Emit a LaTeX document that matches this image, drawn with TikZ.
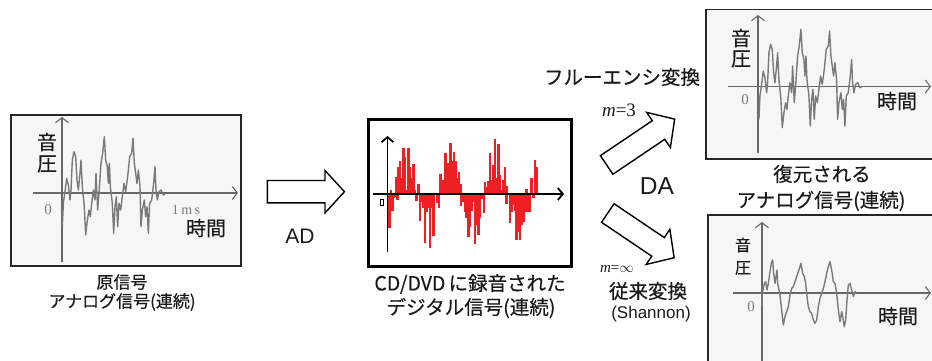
\documentclass[tikz,border=0pt]{standalone}
\usepackage{fontspec}
\setmainfont{Liberation Sans}
\newfontfamily\jp[FakeBold=0.4]{Noto Sans CJK JP}
\newfontfamily\tms{Liberation Serif}
\usetikzlibrary{arrows.meta,shapes.arrows}
\definecolor{txt}{HTML}{1A1A1A}
\definecolor{wavegray}{HTML}{7A7A7A}
\definecolor{boxfill}{HTML}{F6F6F6}
\definecolor{barred}{HTML}{EE2024}
\newcommand\waveApath{%
\draw[wave] (22,320) -- (25,250) -- (30,215) -- (35,175) -- (40,195) -- (45,240) -- (48,210) -- (52,120) -- (57,95) -- (62,110) -- (66,180) -- (70,210) -- (75,160) -- (78,120) -- (82,200) -- (88,260) -- (92,345) -- (97,300) -- (102,270) -- (106,290) -- (110,250) -- (115,210) -- (120,240) -- (123,160) -- (128,270) -- (132,220) -- (138,130) -- (143,100) -- (148,50) -- (152,120) -- (157,140) -- (160,190) -- (163,130) -- (166,200) -- (172,250) -- (176,340) -- (180,260) -- (184,230) -- (188,320) -- (192,250) -- (197,270) -- (202,230) -- (207,190) -- (212,215) -- (218,170) -- (224,110) -- (230,100) -- (234,55) -- (238,130) -- (242,160) -- (246,190) -- (250,150) -- (255,200) -- (258,320) -- (262,270) -- (268,240) -- (272,290) -- (276,260) -- (280,340) -- (284,250) -- (290,240) -- (296,190) -- (300,140) -- (303,210) -- (307,240) -- (312,215) -- (318,210) -- (325,225) -- (330,222);}
\tikzset{
  wave/.style={wavegray, line width=1.4pt, line join=round},
  imgbox/.style={draw=black!85, line width=1.4pt, fill=boxfill},
  gaxis/.style={wavegray!85!black, line width=1.1pt, -{Straight Barb[length=5pt,width=13pt]}},
  baxis/.style={black, line width=1.8pt, -{Straight Barb[length=5pt,width=12pt,line width=1.8pt]}},
  jl/.style={font=\jp\fontsize{19.5pt}{22pt}\selectfont, text=txt, inner sep=0pt},
  jls/.style={font=\jp\fontsize{17pt}{20pt}\selectfont, text=txt, inner sep=0pt},
  axl/.style={font=\jp\fontsize{20pt}{22pt}\selectfont, text=txt, inner sep=0pt},
  axls/.style={font=\jp\fontsize{16pt}{18pt}\selectfont, text=txt, inner sep=0pt},
  zerol/.style={font=\tms\fontsize{15pt}{16pt}\selectfont, text=wavegray, inner sep=0pt},
  lat/.style={font=\fontsize{21pt}{24pt}\selectfont, text=txt, inner sep=0pt},
  blockarr/.style={single arrow, draw=black, line width=1.4pt, fill=white, inner xsep=0pt, inner ysep=10.5pt, single arrow head extend=10pt, single arrow tip angle=95},
  redbar/.style={fill=barred}
}
\begin{document}
\begin{tikzpicture}[x=1pt,y=-1pt]
\useasboundingbox (0,0) rectangle (932,360);
\clip (0,0) rectangle (932,360);
% ---------- left box ----------
\draw[imgbox] (11,115) rectangle (241,266);
\coordinate (lvb) at (62,262); \coordinate (lvt) at (62,117);
\coordinate (lhl) at (33,193); \coordinate (lhr) at (238,193);
\draw[gaxis] (lvb) -- (lvt);
\draw[gaxis] (lhl) -- (lhr);
\begin{scope}[shift={(55,120)}, scale=1/3]
\waveApath
\end{scope}
\node[axl] (lyin) at (47,142) {音};
\node[axl] (lyatsu) at (47,164) {圧};
\node[zerol] (lzero) at (48,210) {0};
\node[zerol, font=\tms\fontsize{14pt}{16pt}\selectfont] (lms) at (186,210) {1\,m\,s};
\node[axl] (ltime) at (206,228) {時間};
\node[jls] (lcap1) at (122,282) {原信号};
\node[jls] (lcap2) at (122,302) {アナログ信号(連続)};
% ---------- AD arrow ----------
\node[blockarr, minimum height=77pt] (arrAD) at (300.8,191.7) {};
\node[lat] (ad) at (300,236) {AD};
% ---------- middle box ----------
\draw[black, line width=3pt, fill=white] (368,119) rectangle (571,266);
\begin{scope}[shift={(370,125)}, scale=1/3]
\foreach \x/\y in {55/285,58/310,63/195,68/258,72/218,78/215,82/225,
  80/155,85/125,90/108,95/160,100/70,105/95,110/195,115/70,120/125,125/160,130/118,135/195,145/178,
  140/228,150/287,155/230,160/248,165/355,170/262,175/250,180/370,185/250,190/332,
  203/235,207/248,212/148,217/165,222/165,227/85,232/113,237/192,242/55,247/108,252/80,257/108,262/160,267/140,272/178,
  273/242,280/232,285/260,290/278,295/335,300/307,305/257,310/230,315/358,320/300,325/330,330/280,335/222,342/265,
  345/170,350/185,355/168,360/85,365/165,370/120,375/42,380/160,385/58,390/150,395/195,400/165,405/125,410/182,
  410/237,420/295,425/260,430/240,435/258,440/345,445/320,450/345,455/300,460/290,465/262,470/262,478/262,
  470/192,485/160,490/220,495/105,500/125}
  \fill[redbar] (\x-3.6,207) rectangle (\x+3.6,\y);
\end{scope}
\coordinate (mvb) at (387.5,252); \coordinate (mvt) at (387.5,136);
\coordinate (mhl) at (373,194); \coordinate (mhr) at (564,194);
\draw[baxis] (mvb) -- (mvt);
\draw[baxis] (mhl) -- (mhr);
\node[draw=black, line width=1.1pt, minimum width=3pt, minimum height=6pt, inner sep=0pt] (mzero) at (381.7,202.5) {};
\node[jl] (mcap1) at (470,284) {CD/DVD\,{\jp に録音された}};
\node[jl] (mcap2) at (471,308) {デジタル信号(連続)};
% ---------- DA arrows ----------
\node[blockarr, minimum height=82pt, rotate=34] (arrUp) at (636.4,144.9) {};
\node[blockarr, minimum height=80pt, rotate=-34] (arrDown) at (636.7,232.5) {};
\node[jl] (fluency) at (622,77) {フルーエンシ変換};
\node[font=\tms\fontsize{19pt}{21pt}\selectfont, text=txt, inner sep=0pt] (m3) at (619,110) {\textit{m}=3};
\node[lat, font=\fontsize{24.5pt}{27pt}\selectfont] (da) at (657,186) {DA};
\node[font=\tms\fontsize{15pt}{17pt}\selectfont, text=txt, inner sep=0pt] (minf) at (617,269) {\textit{m}=$\infty$};
\node[jl] (conv) at (648,291) {従来変換};
\node[font=\fontsize{17pt}{19pt}\selectfont, text=txt, inner sep=0pt] (shannon) at (651,314) {(Shannon)};
% ---------- top right box ----------
\draw[imgbox] (706,9.5) rectangle (945,159);
\coordinate (tvb) at (758,153); \coordinate (tvt) at (758,15);
\coordinate (thl) at (728,86.5); \coordinate (thr) at (931,86.5);
\draw[gaxis] (tvb) -- (tvt);
\draw[gaxis] (thl) -- (thr);
\begin{scope}[shift={(751.6,12.7)}, scale=1/3]
\waveApath
\end{scope}
\node[axl] (tyin) at (741,38) {音};
\node[axl] (tyatsu) at (741,59) {圧};
\node[zerol] (tzero) at (745,100) {0};
\node[axl] (ttime) at (897,101) {時間};
\node[jl] (tcap1) at (822,174) {復元される};
\node[jl] (tcap2) at (821,201) {アナログ信号(連続)};
% ---------- bottom right box ----------
\draw[imgbox] (708,215) rectangle (945,375);
\coordinate (bvb) at (762,362); \coordinate (bvt) at (762,222);
\coordinate (bhl) at (733,293); \coordinate (bhr) at (931,293);
\draw[gaxis] (bvb) -- (bvt);
\draw[gaxis] (bhl) -- (bhr);
\begin{scope}[shift={(755,240)}, scale=1/3]
\draw[wave] (20,200) -- (22,160) -- (28,130) -- (32,125) -- (36,150) -- (40,130) -- (45,95) -- (50,65) -- (53,60) -- (56,100) -- (60,130) -- (63,110) -- (66,90) -- (68,130) -- (70,140) -- (75,165) -- (80,210) -- (85,255) -- (90,230) -- (95,215) -- (100,200) -- (105,165) -- (110,145) -- (115,140) -- (120,125) -- (125,110) -- (130,95) -- (135,80) -- (138,70) -- (143,100) -- (148,110) -- (152,130) -- (155,160) -- (160,200) -- (165,215) -- (170,220) -- (175,240) -- (180,250) -- (185,240) -- (190,200) -- (195,175) -- (200,160) -- (205,145) -- (210,125) -- (215,100) -- (220,80) -- (225,65) -- (230,90) -- (235,125) -- (240,130) -- (245,160) -- (250,210) -- (255,245) -- (260,215) -- (263,230) -- (268,260) -- (272,240) -- (276,180) -- (280,135) -- (285,130) -- (290,150) -- (295,170) -- (300,155) -- (305,158);
\end{scope}
\node[axls] (byin) at (743,245) {音};
\node[axls] (byatsu) at (743,268) {圧};
\node[zerol] (bzero) at (751,307) {0};
\node[axl] (btime) at (898,316) {時間};
\end{tikzpicture}
\end{document}
